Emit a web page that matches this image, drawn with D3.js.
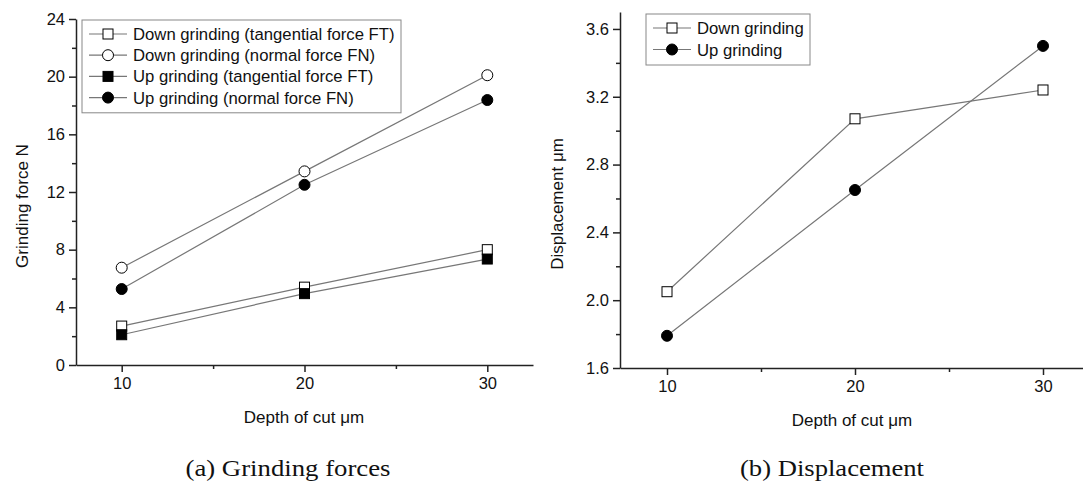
<!DOCTYPE html>
<html>
<head>
<meta charset="utf-8">
<title>Grinding forces and displacement</title>
<style>
  body { margin: 0; background: #fff; }
  text { font-family: Arial, "Liberation Sans", Helvetica, sans-serif; fill: #111; }
  .caption { font-family: "Times New Roman", "Liberation Serif", Times, serif; font-size: 24px; }
  .tick text { font-size: 16.5px; font-family: Arial, "Liberation Sans", Helvetica, sans-serif; }
  .domain, .tick line { stroke: #222; stroke-width: 1.5px; }
</style>
</head>
<body>
<script src="https://cdn.jsdelivr.net/npm/d3@7"></script>
<script>
var depth = [10, 20, 30];

// (a) grinding forces, N
var forceNames = [
  "Down grinding (tangential force FT)",
  "Down grinding (normal force FN)",
  "Up grinding (tangential force FT)",
  "Up grinding (normal force FN)"
];
var downFT = [2.7, 5.4, 8.0];
var downFN = [6.75, 13.43, 20.1];
var upFT = [2.1, 4.95, 7.35];
var upFN = [5.27, 12.5, 18.38];
var forceShapes = ["square", "circle", "square", "circle"];
var forceFilled = [false, false, true, true];

// (b) displacement, um
var dispNames = ["Down grinding", "Up grinding"];
var downDisp = [2.05, 3.07, 3.24];
var upDisp = [1.79, 2.65, 3.50];
var dispShapes = ["square", "circle"];
var dispFilled = [false, true];

var forceTicks = [0, 4, 8, 12, 16, 20, 24];
var dispTicks = [1.6, 2.0, 2.4, 2.8, 3.2, 3.6];

var svg = d3.select("body").append("svg")
    .attr("width", 1083)
    .attr("height", 485);

function drawMarker(g, shape, filled, x, y) {
  if (shape === "square") {
    g.append("rect")
      .attr("x", x - 5).attr("y", y - 5)
      .attr("width", 10).attr("height", 10)
      .attr("fill", filled ? "#000" : "#fff")
      .attr("stroke", "#000").attr("stroke-width", 1);
  } else {
    g.append("circle")
      .attr("cx", x).attr("cy", y).attr("r", 5.5)
      .attr("fill", filled ? "#000" : "#fff")
      .attr("stroke", "#000").attr("stroke-width", 1);
  }
}

function panel(opt) {
  var g = svg.append("g");
  var x = d3.scaleLinear().domain([7.5, 32.5]).range([opt.left, opt.right]);
  var y = d3.scaleLinear().domain(opt.yDomain).range([opt.bottom, opt.top]);

  // minor ticks
  g.append("g").attr("transform", "translate(0," + opt.bottom + ")")
    .call(d3.axisBottom(x).tickValues([15, 25]).tickSize(4).tickFormat(""))
    .select(".domain").remove();
  g.append("g").attr("transform", "translate(" + opt.left + ",0)")
    .call(d3.axisLeft(y).tickValues(opt.minor).tickSize(4).tickFormat(""))
    .select(".domain").remove();

  g.append("g").attr("transform", "translate(0," + opt.bottom + ")")
    .call(d3.axisBottom(x).tickValues(depth).tickSize(7).tickSizeOuter(0).tickPadding(5));
  g.append("g").attr("transform", "translate(" + opt.left + ",0)")
    .call(d3.axisLeft(y).tickValues(opt.yTicks).tickSize(7).tickSizeOuter(0)
      .tickPadding(4).tickFormat(opt.fmt));

  var line = d3.line().x(function (d, i) { return x(depth[i]); }).y(function (d) { return y(d); });
  opt.series.forEach(function (s) {
    g.append("path").datum(s.values)
      .attr("d", line)
      .attr("fill", "none").attr("stroke", "#777").attr("stroke-width", 1.2);
  });
  opt.series.forEach(function (s) {
    s.values.forEach(function (v, i) {
      drawMarker(g, s.shape, s.filled, x(depth[i]), y(v));
    });
  });

  // legend
  var lg = opt.legend;
  g.append("rect").attr("x", lg.x).attr("y", lg.y).attr("width", lg.w)
    .attr("height", lg.row * opt.series.length + 8)
    .attr("fill", "#fff").attr("stroke", "#888").attr("stroke-width", 1);
  opt.series.forEach(function (s, i) {
    var cy = lg.y + 14 + i * lg.row;
    g.append("line").attr("x1", lg.x + 7).attr("x2", lg.x + 45)
      .attr("y1", cy).attr("y2", cy).attr("stroke", "#777").attr("stroke-width", 1.2);
    drawMarker(g, s.shape, s.filled, lg.x + 26, cy);
    g.append("text").attr("x", lg.x + 51).attr("y", cy + 6)
      .style("font-size", "16.7px").text(s.name);
  });

  g.append("text")
    .attr("transform", "translate(" + opt.yLabelX + "," + opt.yLabelY + ") rotate(-90)")
    .attr("text-anchor", "middle").style("font-size", "17px").text(opt.yLabel);
  g.append("text")
    .attr("x", opt.xLabelX).attr("y", opt.bottom + 58)
    .attr("text-anchor", "middle").style("font-size", "17px").text("Depth of cut \u03bcm");
  g.append("text").attr("class", "caption")
    .attr("x", opt.captionX).attr("y", 476)
    .attr("text-anchor", "middle")
    .attr("textLength", opt.captionW).attr("lengthAdjust", "spacingAndGlyphs")
    .text(opt.caption);
}

panel({
  left: 76, right: 533, top: 19, bottom: 365,
  yDomain: [0, 24], yTicks: forceTicks, minor: [2, 6, 10, 14, 18, 22],
  fmt: d3.format("d"),
  series: [
    { name: forceNames[0], values: downFT, shape: forceShapes[0], filled: forceFilled[0] },
    { name: forceNames[1], values: downFN, shape: forceShapes[1], filled: forceFilled[1] },
    { name: forceNames[2], values: upFT, shape: forceShapes[2], filled: forceFilled[2] },
    { name: forceNames[3], values: upFN, shape: forceShapes[3], filled: forceFilled[3] }
  ],
  legend: { x: 82, y: 20, w: 319, row: 21.2 },
  yLabel: "Grinding force N", yLabelX: 28, yLabelY: 206,
  xLabelX: 304, caption: "(a) Grinding forces", captionX: 288, captionW: 205
});

panel({
  left: 620, right: 1090, top: 12, bottom: 368,
  yDomain: [1.6, 3.7], yTicks: dispTicks, minor: [1.8, 2.2, 2.6, 3.0, 3.4],
  fmt: d3.format(".1f"),
  series: [
    { name: dispNames[0], values: downDisp, shape: dispShapes[0], filled: dispFilled[0] },
    { name: dispNames[1], values: upDisp, shape: dispShapes[1], filled: dispFilled[1] }
  ],
  legend: { x: 646, y: 14, w: 164, row: 21.5 },
  yLabel: "Displacement \u03bcm", yLabelX: 563, yLabelY: 204,
  xLabelX: 852, caption: "(b) Displacement", captionX: 832, captionW: 184
});
</script>
</body>
</html>
